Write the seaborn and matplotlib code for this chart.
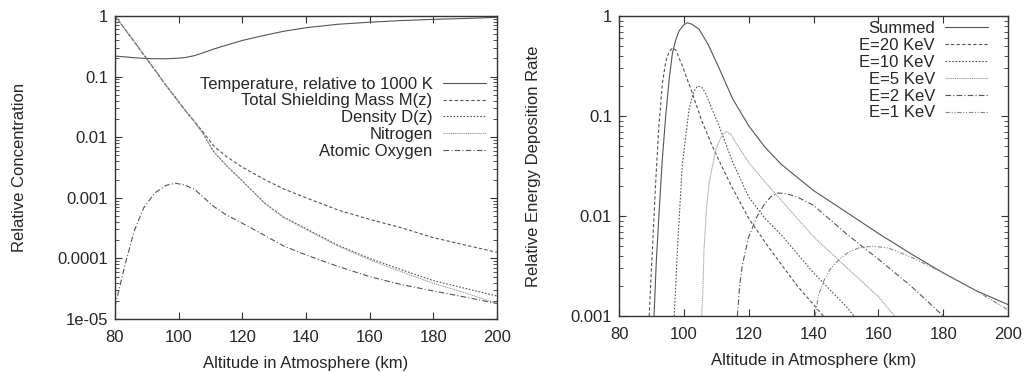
import matplotlib
matplotlib.use("Agg")
import matplotlib.pyplot as plt
import numpy as np
import seaborn as sns

sns.set_theme(style="ticks")
plt.rcParams["font.family"] = ["Liberation Sans", "DejaVu Sans"]

# ---------------- Left panel: atmosphere profiles ----------------
alt = [80, 83, 86, 89, 92.5, 96, 99, 102, 105, 107.5, 111, 115, 120, 127,
       133, 140, 150, 160, 170, 180, 190, 200]
temperature = [0.218, 0.212, 0.205, 0.2, 0.197, 0.197, 0.2, 0.206, 0.222,
               0.245, 0.285, 0.33, 0.395, 0.48, 0.56, 0.64, 0.73, 0.79, 0.84,
               0.88, 0.91, 0.95]
shield_mass = [1.0, 0.62, 0.38, 0.23, 0.13, 0.072, 0.045, 0.028, 0.018,
               0.0125, 0.0072, 0.0048, 0.0032, 0.002, 0.0014, 0.001, 0.00063,
               0.00044, 0.00032, 0.00022, 0.000166, 0.000126]
density = [1.0, 0.62, 0.38, 0.23, 0.13, 0.072, 0.045, 0.028, 0.018, 0.0118,
           0.0058, 0.0034, 0.0019, 0.00082, 0.00048, 0.00031, 0.000166,
           0.0001, 6.5e-5, 4.3e-5, 3.2e-5, 2.4e-5]
nitrogen = [1.0, 0.62, 0.38, 0.23, 0.13, 0.072, 0.045, 0.028, 0.018, 0.0118,
            0.0058, 0.0034, 0.0019, 0.00081, 0.00047, 0.0003, 0.00016,
            9.5e-5, 6.0e-5, 3.9e-5, 2.7e-5, 1.8e-5]
oxygen = [1.6e-5, 7.3e-5, 0.00028, 0.00068, 0.0012, 0.0016, 0.00174,
          0.00162, 0.00138, 0.00105, 0.00072, 0.00052, 0.00038, 0.00024,
          0.00016, 0.000114, 7.4e-5, 5.0e-5, 3.7e-5, 2.9e-5, 2.3e-5, 1.8e-5]

# ---------------- Right panel: energy deposition ----------------
sum_alt = [90.8, 91.5, 92.3, 93.3, 94.4, 95.5, 96.5, 97.5, 98.5, 100, 101.1,
           102.5, 104.7, 107.5, 110.9, 115, 120, 125, 130, 140, 150, 160, 170,
           180, 190, 200]
summed = [0.001, 0.0035, 0.01, 0.035, 0.1, 0.24, 0.43, 0.58, 0.71, 0.82,
          0.86, 0.83, 0.74, 0.52, 0.3, 0.15, 0.08, 0.049, 0.033, 0.018, 0.011,
          0.0067, 0.0042, 0.0027, 0.0018, 0.0013]
e20_alt = [89.3, 89.8, 90.3, 91.3, 92.3, 93.4, 94.4, 95.4, 96.5, 97.5, 99.5,
           102.6, 105.5, 108.8, 112, 115, 120, 125, 130, 135, 140, 143]
e20 = [0.001, 0.0022, 0.0046, 0.0215, 0.08, 0.215, 0.35, 0.44, 0.48, 0.46,
       0.32, 0.17, 0.09, 0.05, 0.03, 0.019, 0.0095, 0.0055, 0.0033, 0.002,
       0.0013, 0.001]
e10_alt = [97, 97.5, 98, 99.5, 101.6, 103, 104.2, 105.5, 106.7, 108.8, 110.9,
           115, 120, 125, 130, 140, 150, 152.5]
e10 = [0.001, 0.002, 0.0046, 0.032, 0.117, 0.175, 0.2, 0.195, 0.17, 0.115,
       0.079, 0.035, 0.0155, 0.0095, 0.0065, 0.0027, 0.00125, 0.001]
e5_alt = [105.5, 105.9, 106.2, 107, 107.8, 109.8, 111.5, 112.9, 114.5, 116,
          120.1, 125, 130, 140, 150, 160, 165]
e5 = [0.001, 0.002, 0.0046, 0.012, 0.0215, 0.046, 0.062, 0.07, 0.066, 0.054,
      0.034, 0.022, 0.0144, 0.0062, 0.0031, 0.00156, 0.001]
e2_alt = [116.5, 117.2, 118, 120, 122.5, 125, 127, 129, 131.5, 135, 140, 150,
          160, 170, 180]
e2 = [0.001, 0.002, 0.0032, 0.0062, 0.0098, 0.0134, 0.0158, 0.017, 0.0168,
      0.0155, 0.0128, 0.0067, 0.0037, 0.002, 0.001]
e1_alt = [140.5, 141.5, 143, 145, 148, 151, 154, 158, 163, 170, 180, 190,
          200]
e1 = [0.001, 0.0016, 0.0022, 0.0029, 0.0037, 0.0044, 0.0048, 0.005, 0.0048,
      0.0039, 0.0027, 0.0018, 0.00115]

fig = plt.figure(figsize=(10.24, 3.72), dpi=100)
ax1 = fig.add_axes([0.1123, 0.1425, 0.373, 0.8145])
ax2 = fig.add_axes([0.6045, 0.1505, 0.380, 0.806])

lw = 0.8
left_series = [
    ("Temperature, relative to 1000 K", temperature, "#555555", "-"),
    ("Total Shielding Mass M(z)", shield_mass, "#555555", (0, (3, 2))),
    ("Density D(z)", density, "#555555", (0, (1.5, 1.5))),
    ("Nitrogen", nitrogen, "#999999", (0, (1, 0.7))),
    ("Atomic Oxygen", oxygen, "#555555", (0, (5, 2, 1, 2))),
]
for label, vals, col, ls in left_series:
    sns.lineplot(x=alt, y=vals, ax=ax1, color=col, linestyle=ls, lw=lw,
                 label=label)

right_series = [
    ("Summed", sum_alt, summed, "#555555", "-"),
    ("E=20 KeV", e20_alt, e20, "#555555", (0, (3, 2))),
    ("E=10 KeV", e10_alt, e10, "#555555", (0, (1.5, 1.5))),
    ("E=5 KeV", e5_alt, e5, "#999999", (0, (1, 0.7))),
    ("E=2 KeV", e2_alt, e2, "#555555", (0, (5, 2, 1, 2))),
    ("E=1 KeV", e1_alt, e1, "#888888", (0, (4, 1.5, 1, 1.5, 1, 1.5))),
]
for label, xs, vals, col, ls in right_series:
    sns.lineplot(x=xs, y=vals, ax=ax2, color=col, linestyle=ls, lw=lw,
                 label=label)

ax1.set_yscale("log")
ax1.set_ylim(1e-5, 1)
ax1.set_yticks([1, 0.1, 0.01, 0.001, 0.0001, 1e-5])
ax1.set_yticklabels(["1", "0.1", "0.01", "0.001", "0.0001", "1e-05"])
ax1.set_ylabel("Relative Concentration", fontsize=12, labelpad=22)

ax2.set_yscale("log")
ax2.set_ylim(0.001, 1)
ax2.set_yticks([1, 0.1, 0.01, 0.001])
ax2.set_yticklabels(["1", "0.1", "0.01", "0.001"])
ax2.set_ylabel("Relative Energy Deposition Rate", fontsize=12, labelpad=21)

for ax in (ax1, ax2):
    ax.set_xlim(80, 200)
    ax.set_xticks(range(80, 201, 20))
    ax.set_xlabel("Altitude in Atmosphere (km)", fontsize=12, labelpad=8)
    ax.tick_params(which="both", direction="in", top=True, right=True,
                   labelsize=12, color="#333333")
    ax.tick_params(which="major", length=5, width=0.8)
    ax.tick_params(which="minor", length=3, width=0.6)
    ax.tick_params(axis="x", which="major", pad=8)
    ax.tick_params(axis="y", which="major", pad=5)
    ax.tick_params(axis="x", which="minor", bottom=False, top=False)
    for sp in ax.spines.values():
        sp.set_color("#333333")
        sp.set_linewidth(1.0)

ax1.legend(loc="upper right", bbox_to_anchor=(0.971, 0.80), frameon=False,
           markerfirst=False, fontsize=12, handlelength=2.6,
           handletextpad=0.6, labelspacing=0.11, borderpad=0,
           borderaxespad=0)
ax2.legend(loc="upper right", bbox_to_anchor=(0.949, 0.983), frameon=False,
           markerfirst=False, fontsize=12, handlelength=2.6,
           handletextpad=0.6, labelspacing=0.11, borderpad=0,
           borderaxespad=0)

fig.savefig("out.png", dpi=100)
